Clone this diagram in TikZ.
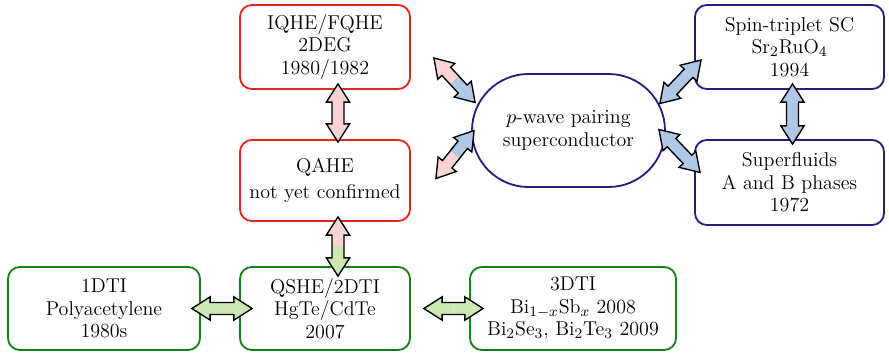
\documentclass[tikz,border=0pt]{standalone}
\usetikzlibrary{calc,shapes.misc}
\definecolor{redc}{RGB}{228,38,30}
\definecolor{navyc}{RGB}{40,28,128}
\definecolor{greenc}{RGB}{25,128,25}
\definecolor{pinkf}{RGB}{250,212,212}
\definecolor{bluef}{RGB}{176,200,230}
\definecolor{greenf}{RGB}{205,232,180}
\tikzset{
  box/.style={draw, line width=1pt, rounded corners=6.5pt, align=center, inner sep=0pt, font=\fontsize{11}{12.4}\selectfont},
  redbox/.style={box, draw=redc},
  navybox/.style={box, draw=navyc},
  greenbox/.style={box, draw=greenc},
}
\newcommand\fatarrow[4]{%
  \path let \p1=(#1), \p2=(#2), \n1={atan2(\y2-\y1,\x2-\x1)}, \n2={veclen(\x2-\x1,\y2-\y1)} in \pgfextra{\xdef\farawang{\n1}\xdef\farawlen{\n2}};
  \pgfmathsetmacro\faang{\farawang}%
  \pgfmathsetmacro\falen{\farawlen}%
  \pgfmathsetmacro\fab{\falen-10}%
  \pgfmathsetmacro\fam{\falen/2}%
  \begin{scope}[shift={(#1)}, rotate=\faang]
    \def\fapoly{(0pt,0pt) -- (10pt,6.4pt) -- (10pt,3.3pt) -- (\fab pt,3.3pt) -- (\fab pt,6.4pt) -- (\falen pt,0pt) -- (\fab pt,-6.4pt) -- (\fab pt,-3.3pt) -- (10pt,-3.3pt) -- (10pt,-6.4pt) -- cycle}
    \begin{scope}
      \clip (-1pt,-8pt) rectangle (\fam pt,8pt);
      \fill[#3] \fapoly;
    \end{scope}
    \begin{scope}
      \clip (\fam pt,-8pt) rectangle (\falen pt+1pt,8pt);
      \fill[#4] \fapoly;
    \end{scope}
    \draw[line width=0.75pt, line join=miter] \fapoly;
  \end{scope}
}
\begin{document}
\begin{tikzpicture}[x=0.55pt, y=-0.55pt]
\useasboundingbox (0,0) rectangle (889,356);
\node[redbox, minimum width=170*0.55pt, minimum height=84*0.55pt] (iqhe) at (325,47) {IQHE/FQHE\\2DEG\\1980/1982};
\node[redbox, minimum width=170*0.55pt, minimum height=81*0.55pt] (qahe) at (325,180.5) {QAHE\\[1.5pt]not yet confirmed};
\node[greenbox, minimum width=170*0.55pt, minimum height=83*0.55pt] (qshe) at (325,308.5) {QSHE/2DTI\\HgTe/CdTe\\2007};
\node[greenbox, minimum width=192*0.55pt, minimum height=83*0.55pt] (odti) at (104,308.5) {1DTI\\Polyacetylene\\1980s};
\node[greenbox, minimum width=206*0.55pt, minimum height=83*0.55pt] (tdti) at (573,308.5) {3DTI\\Bi$_{1-x}$Sb$_x$ 2008\\Bi$_2$Se$_3$, Bi$_2$Te$_3$ 2009};
\node[draw=navyc, line width=1pt, rounded rectangle, align=center, inner sep=0pt, font=\fontsize{11}{12.4}\selectfont, minimum width=193*0.55pt, minimum height=113*0.55pt] (pw) at (568.5,130.5) {$p$-wave pairing\\superconductor};
\node[navybox, minimum width=189*0.55pt, minimum height=84*0.55pt] (spin) at (789.5,47) {Spin-triplet SC\\Sr$_2$RuO$_4$\\1994};
\node[navybox, minimum width=189*0.55pt, minimum height=85*0.55pt] (sf) at (789.5,182.5) {Superfluids\\A and B phases\\1972};

\coordinate (a1s) at ($(iqhe.south)+(13,-6)$);
\coordinate (a1e) at ($(qahe.north)+(13,3)$);
\coordinate (a2s) at ($(qahe.south)+(13,-5)$);
\coordinate (a2e) at ($(qshe.north)+(13,10)$);
\coordinate (a3s) at ($(odti.east)+(-9,0)$);
\coordinate (a3e) at ($(qshe.west)+(13,0)$);
\coordinate (a4s) at ($(qshe.east)+(13,0)$);
\coordinate (a4e) at ($(tdti.west)+(14,0)$);
\coordinate (a5s) at ($(iqhe.east)+(23,11)$);
\coordinate (a5e) at ($(pw.west)+(4,-28)$);
\coordinate (a6s) at ($(qahe.east)+(25,-2)$);
\coordinate (a6e) at ($(pw.west)+(3,0)$);
\coordinate (a7s) at ($(pw.east)+(-6,-27)$);
\coordinate (a7e) at ($(spin.west)+(7,13)$);
\coordinate (a8s) at ($(pw.east)+(-7,-1)$);
\coordinate (a8e) at ($(sf.west)+(6,-10)$);
\coordinate (a9s) at ($(spin.south)+(3,-6)$);
\coordinate (a9e) at ($(sf.north)+(3,5)$);

\fatarrow{a1s}{a1e}{pinkf}{pinkf}
\fatarrow{a2s}{a2e}{pinkf}{greenf}
\fatarrow{a3s}{a3e}{greenf}{greenf}
\fatarrow{a4s}{a4e}{greenf}{greenf}
\fatarrow{a5s}{a5e}{pinkf}{bluef}
\fatarrow{a6s}{a6e}{pinkf}{bluef}
\fatarrow{a7s}{a7e}{bluef}{bluef}
\fatarrow{a8s}{a8e}{bluef}{bluef}
\fatarrow{a9s}{a9e}{bluef}{bluef}
\end{tikzpicture}
\end{document}
